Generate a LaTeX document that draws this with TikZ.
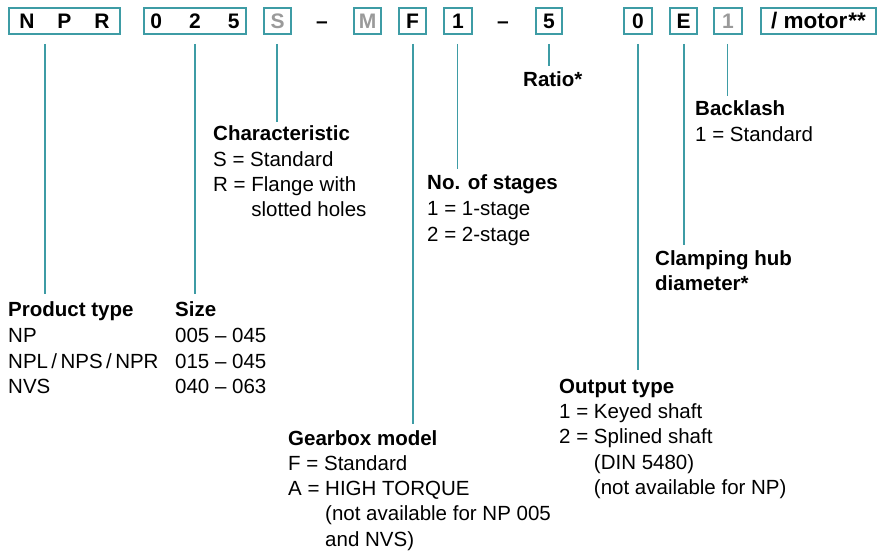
\documentclass[tikz,border=0pt]{standalone}
\usepackage{fontspec}
\setmainfont{Liberation Sans}
\definecolor{codeteal}{HTML}{3E9CA5}
\definecolor{codegray}{HTML}{9A9A9A}
\begin{document}
\begin{tikzpicture}[x=1pt,y=-1pt,
  every node/.style={font=\fontsize{20.5}{24}\selectfont, inner sep=0pt},
  cbox/.style={draw=codeteal, line width=1.8pt, minimum height=26.2pt,
    font=\bfseries\fontsize{21}{24}\selectfont},
  gtxt/.style={text=codegray},
  dashsign/.style={anchor=base, font=\bfseries\fontsize{21}{24}\selectfont},
  conn/.style={draw=codeteal, line width=1.5pt},
  ttl/.style={anchor=base west, font=\bfseries\fontsize{20.5}{24}\selectfont},
  txt/.style={anchor=base west}
]
\useasboundingbox (0,0) rectangle (880,551);

% code boxes
\node[cbox, minimum width=111.2pt] (bNPR) at (64.5,21) {N\hspace{23pt}P\hspace{23pt}R};
\node[cbox, minimum width=102.2pt] (bSize) at (195,21) {0\hspace{27pt}2\hspace{27pt}5};
\node[cbox, gtxt, minimum width=27.2pt] (bS) at (277.5,21) {S};
\node[dashsign] (d1) at (322,28.3) {–};
\node[cbox, gtxt, minimum width=27.2pt] (bM) at (367.5,21) {M};
\node[cbox, minimum width=27.2pt] (bF) at (412.5,21) {F};
\node[cbox, minimum width=28.2pt] (b1) at (458,21) {1};
\node[dashsign] (d2) at (503,28.3) {–};
\node[cbox, minimum width=26.2pt] (b5) at (549,21) {5};
\node[cbox, minimum width=28.2pt] (b0) at (638,21) {0};
\node[cbox, minimum width=27.2pt] (bE) at (683.5,21) {E};
\node[cbox, gtxt, minimum width=28.2pt] (bB) at (728,21) {1};
\node[cbox, minimum width=115.2pt, font=\bfseries\fontsize{22.5}{24}\selectfont] (bMotor) at (818.5,21) {/ motor\kern1pt**};

% connector end points
\coordinate (t1) at (45,44);   \coordinate (e1) at (45,294);
\coordinate (t2) at (195,44);  \coordinate (e2) at (195,294);
\coordinate (t3) at (277,44);  \coordinate (e3) at (277,122);
\coordinate (t4) at (413,44);  \coordinate (e4) at (413,424);
\coordinate (t5) at (457.5,44);\coordinate (e5) at (457.5,169);
\coordinate (t6) at (549,44);  \coordinate (e6) at (549,66);
\coordinate (t7) at (638,44);  \coordinate (e7) at (638,370);
\coordinate (t8) at (684,44);  \coordinate (e8) at (684,245);
\coordinate (t9) at (727.5,44);\coordinate (e9) at (727.5,96);
\foreach \i in {1,...,9} { \draw[conn] (t\i) -- (e\i); }

% Ratio
\node[ttl] (ratio) at (523,86.5) {Ratio*};

% Backlash
\node[ttl] (bl0) at (695,115.5) {Backlash};
\node[txt] (bl1) at (695,141.5) {1 = Standard};

% Characteristic
\node[ttl] (ch0) at (213,140.7) {Characteristic};
\node[txt] (ch1) at (213,166) {S = Standard};
\node[txt] (ch2) at (213,191) {R = Flange with};
\node[txt] (ch3) at (213,216) {\hphantom{R = }slotted holes};

% Stages
\node[ttl] (st0) at (427,189.3) {No. of stages};
\node[txt] (st1) at (427,215) {1 = 1-stage};
\node[txt] (st2) at (427,241) {2 = 2-stage};

% Clamping hub
\node[ttl] (cl0) at (655,265.7) {Clamping hub};
\node[ttl] (cl1) at (655,290.7) {diameter*};

% Product type and size
\node[ttl] (pt0) at (8,316.7) {Product type};
\node[txt] (pt1) at (8,342.3) {NP};
\node[txt] (pt2) at (8,368) {NPL\,/\,NPS\,/\,NPR};
\node[txt] (pt3) at (8,393.5) {NVS};
\node[ttl] (sz0) at (175,316.7) {Size};
\node[txt] (sz1) at (175,342.3) {005 – 045};
\node[txt] (sz2) at (175,368) {015 – 045};
\node[txt] (sz3) at (175,393.5) {040 – 063};

% Output type
\node[ttl] (ot0) at (559,393.3) {Output type};
\node[txt] (ot1) at (559,418.6) {1 = Keyed shaft};
\node[txt] (ot2) at (559,443.9) {2 = Splined shaft};
\node[txt] (ot3) at (559,469.2) {\hphantom{2 = }(DIN 5480)};
\node[txt] (ot4) at (559,494.5) {\hphantom{2 = }(not available for NP)};

% Gearbox model
\node[ttl] (gb0) at (288,445) {Gearbox model};
\node[txt] (gb1) at (288,470.3) {F = Standard};
\node[txt] (gb2) at (288,495.6) {A = HIGH TORQUE};
\node[txt] (gb3) at (288,520.9) {\hphantom{A = }(not available for NP 005};
\node[txt] (gb4) at (288,546.2) {\hphantom{A = }and NVS)};
\end{tikzpicture}
\end{document}
